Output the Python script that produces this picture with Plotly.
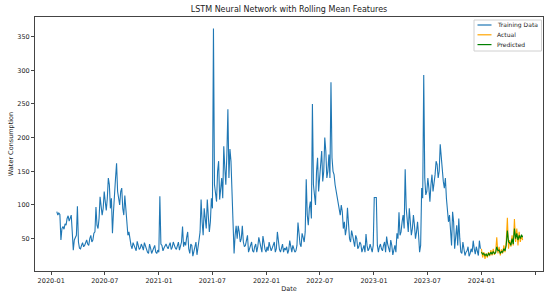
import pandas as pd
import plotly.graph_objects as go

# ---- Training data: weekly samples starting 2020-01-20 ----
train_start = "2020-01-20"
train_2020 = [90, 88, 48, 68, 72, 80, 76, 85, 33, 52,
              98, 36, 40, 38, 44, 42, 50, 45, 58, 97,
              65, 112, 85, 120, 92, 140, 95, 58, 125, 162,
              110, 120, 95, 114, 70, 60, 40, 44, 36, 46,
              34, 42, 33, 38, 30, 42, 28, 36, 30, 33]
train_2021 = [113, 40, 36, 42, 35, 44, 37, 40, 34, 45,
              40, 68, 45, 52, 35, 42, 24, 38, 26, 48,
              108, 55, 72, 108, 60, 110, 362, 115, 150, 108,
              140, 187, 130, 242, 183, 105, 28, 69, 69, 45,
              69, 38, 48, 30, 42, 32, 38, 30, 52, 36,
              54, 34]
train_2022 = [38, 45, 32, 40, 30, 60, 34, 38, 30, 33,
              28, 47, 30, 36, 32, 74, 42, 58, 45, 138,
              70, 105, 250, 110, 150, 120, 160, 135, 200, 140,
              175, 282, 150, 130, 115, 95, 100, 65, 55, 96,
              50, 62, 42, 55, 35, 45, 30, 40, 57, 32,
              42, 30]
train_2023 = [111, 111, 30, 42, 32, 45, 53, 35, 48, 26,
              40, 58, 89, 60, 85, 153, 70, 95, 55, 85,
              50, 75, 30, 125, 293, 115, 140, 105, 145, 130,
              165, 140, 190, 150, 125, 110, 75, 60, 90, 35,
              70, 80, 30, 45, 25, 32, 24, 35, 47, 27,
              30, 47]

# ---- Training data: mid-week samples (3.5 days after each weekly sample) ----
mid_2020 = [85, 86, 65, 64, 70, 84, 80, 60, 48, 55,
            45, 35, 44, 40, 48, 40, 55, 48, 60, 70,
            80, 100, 95, 105, 110, 130, 110, 90, 140, 120,
            100, 125, 85, 90, 55, 48, 35, 40, 32, 40,
            36, 38, 44, 35, 28, 36, 32, 40, 28, 30]
mid_2021 = [42, 32, 40, 38, 40, 34, 45, 36, 38, 33,
            45, 38, 40, 60, 28, 40, 32, 45, 35, 60,
            75, 95, 65, 80, 75, 95, 130, 105, 165, 125,
            110, 155, 175, 140, 165, 80, 55, 50, 60, 50,
            45, 40, 55, 36, 45, 30, 42, 38, 45, 30,
            42, 30]
mid_2022 = [32, 38, 36, 45, 35, 40, 30, 42, 36, 38,
            33, 35, 40, 30, 40, 50, 38, 52, 60, 85,
            95, 80, 130, 100, 170, 140, 180, 150, 180, 150,
            140, 170, 145, 120, 105, 85, 90, 75, 65, 60,
            45, 55, 38, 50, 38, 42, 35, 30, 40, 35,
            36, 40]
mid_2023 = [111, 40, 38, 35, 40, 30, 42, 30, 40, 35,
            30, 50, 55, 75, 65, 95, 60, 75, 65, 70,
            60, 55, 40, 110, 140, 120, 125, 130, 120, 145,
            160, 150, 170, 135, 140, 95, 85, 40, 75, 55,
            40, 50, 28, 35, 30, 38, 28, 30, 35, 38,
            25, 35]

week_values = train_2020 + train_2021 + train_2022 + train_2023
mid_values = mid_2020 + mid_2021 + mid_2022 + mid_2023
week_dates = pd.date_range(train_start, periods=len(week_values), freq="7D")
mid_dates = week_dates + pd.Timedelta(hours=84)

train_dates = []
train_values = []
for wd, wv, md, mv in zip(week_dates, week_values, mid_dates, mid_values):
    train_dates += [wd, md]
    train_values += [wv, mv]

# ---- Test period: samples every 4 days starting 2024-01-01 ----
test_start = "2024-01-01"
actual_values = [35, 22, 30, 20, 28, 22, 30, 24, 33, 25,
                 35, 26, 30, 52, 28, 38, 25, 34, 28, 40,
                 30, 45, 81, 35, 48, 38, 55, 40, 79, 45,
                 65, 40, 60, 45, 55, 48]
predicted_values = [30, 27, 28, 25, 27, 24, 28, 26, 30, 27,
                    31, 28, 29, 38, 32, 33, 28, 31, 30, 35,
                    32, 40, 62, 45, 44, 40, 50, 42, 65, 50,
                    58, 48, 55, 50, 56, 52]
test_dates = pd.date_range(test_start, periods=len(actual_values), freq="4D")

# ---- Axis ticks ----
x_tick_dates = ["2020-01-01", "2020-07-01", "2021-01-01", "2021-07-01", "2022-01-01",
                "2022-07-01", "2023-01-01", "2023-07-01", "2024-01-01", "2024-07-01"]
x_tick_labels = [d[:7] for d in x_tick_dates]
y_tick_vals = [50, 100, 150, 200, 250, 300, 350]

# ---- Legend entries ----
legend_names = ["Training Data", "Actual", "Predicted"]
legend_colors = ["#1f77b4", "orange", "green"]

FONT = "DejaVu Sans"
AX = "#444444"
TXT = "#222222"

fig = go.Figure()
fig.add_trace(go.Scatter(x=train_dates, y=train_values, mode="lines", name=legend_names[0],
                         line=dict(color=legend_colors[0], width=1.1)))
fig.add_trace(go.Scatter(x=test_dates, y=actual_values, mode="lines", name=legend_names[1],
                         line=dict(color=legend_colors[1], width=1.1)))
fig.add_trace(go.Scatter(x=test_dates, y=predicted_values, mode="lines", name=legend_names[2],
                         line=dict(color=legend_colors[2], width=1.1)))

# plot area in pixels: x 35..543, y 17..271
L, R, T, B = 35, 543, 17, 271
def px_x(p):
    return (p - L) / (R - L)
def px_y(p):
    return 1 - (p - T) / (B - T)

shapes = [dict(type="rect", xref="paper", yref="paper",
               x0=px_x(474), x1=px_x(541.5), y0=px_y(51), y1=px_y(20),
               line=dict(color="#d0d0d0", width=1), fillcolor="rgba(255,255,255,0.85)",
               layer="above")]
annotations = []
row_y = [25, 34.8, 44.6]
for name, color, yy in zip(legend_names, legend_colors, row_y):
    shapes.append(dict(type="line", xref="paper", yref="paper",
                       x0=px_x(477.5), x1=px_x(491.5), y0=px_y(yy), y1=px_y(yy),
                       line=dict(color=color, width=1.2), layer="above"))
    annotations.append(dict(text=name, xref="paper", yref="paper",
                            x=px_x(495), y=px_y(yy), xanchor="left", yanchor="middle",
                            showarrow=False, font=dict(size=6, family=FONT, color=TXT)))

fig.update_layout(
    width=544, height=294,
    margin=dict(l=L, r=544 - R, t=T, b=294 - B, autoexpand=False),
    paper_bgcolor="white", plot_bgcolor="white",
    font=dict(family=FONT, size=6, color=TXT),
    title=dict(text="LSTM Neural Network with Rolling Mean Features",
               x=289 / 544, xref="container", xanchor="center",
               y=1 - 9 / 294, yref="container", yanchor="middle",
               font=dict(size=8, family=FONT, color=TXT)),
    showlegend=False,
    shapes=shapes,
    annotations=annotations,
    xaxis=dict(type="date", range=["2019-11-07", "2024-07-28"],
               tickvals=x_tick_dates, ticktext=x_tick_labels,
               showgrid=False, zeroline=False,
               showline=True, linecolor=AX, linewidth=1, mirror=True,
               ticks="outside", ticklen=3, tickcolor=AX, tickwidth=1,
               tickfont=dict(size=6.5, family=FONT, color=TXT),
               title=dict(text="Date", standoff=2, font=dict(size=6.5, family=FONT, color=TXT)),
               automargin=False),
    yaxis=dict(range=[2, 379], tickvals=y_tick_vals,
               showgrid=False, zeroline=False,
               showline=True, linecolor=AX, linewidth=1, mirror=True,
               ticks="outside", ticklen=3, tickcolor=AX, tickwidth=1,
               tickfont=dict(size=6.5, family=FONT, color=TXT),
               title=dict(text="Water Consumption", standoff=3, font=dict(size=6.5, family=FONT, color=TXT)),
               automargin=False),
)

fig.write_html("out.html", config={"displayModeBar": False},
               post_script="document.body.style.margin='0px';")
